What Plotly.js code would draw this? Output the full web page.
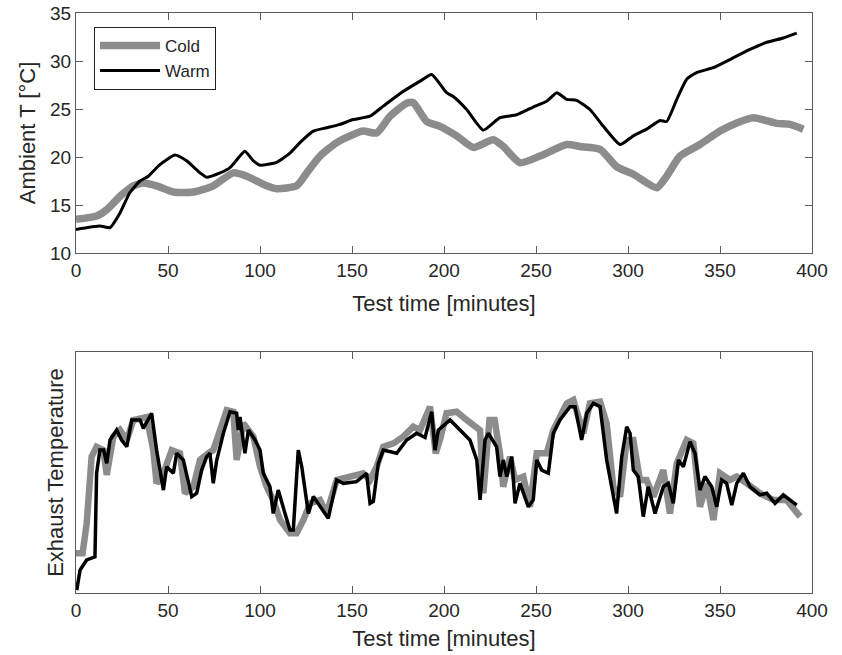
<!DOCTYPE html>
<html>
<head>
<meta charset="utf-8">
<script src="https://cdn.plot.ly/plotly-3.0.1.min.js"></script>
<style>html,body{margin:0;padding:0;background:#fff;}#chart{width:842px;height:655px;}</style>
</head>
<body>
<div id="chart"></div>
<script>
// Top panel: ambient temperature [°C]
const coldAmbT = [0,11.2,16.7,23.9,31.2,36.6,43.8,52.9,63.8,74.6,85.5,92.8,103.6,109,119.9,125.4,132.6,141.7,150.7,156.1,163.4,170.7,179.7,183.3,190.6,197.8,206.9,216,226.8,232.2,241.3,252.2,266.7,273.9,284.8,293.8,302.9,315.6,321,328.3,339.1,350,359.1,368.1,380.8,388,395.3];
const coldAmb  = [13.5,13.85,14.5,15.9,17.0,17.3,17.0,16.35,16.35,17.0,18.35,18.0,17.0,16.7,17.0,18.35,20.1,21.5,22.35,22.7,22.5,24.25,25.6,25.65,23.7,23.2,22.2,21.0,21.8,21.1,19.4,20.1,21.3,21.1,20.8,19.0,18.2,16.8,18.0,20.1,21.3,22.7,23.55,24.1,23.5,23.4,22.9];
const warmAmbT = [0,13,18.5,24,29.3,34.8,39.3,45.6,53.8,60.1,67.4,71,78.3,83.7,88.2,91.8,96.4,100,109,116.3,121.7,129,136.2,143.5,150.7,159.8,167,176,187,193.3,201.4,205,212.3,221.4,230.4,239.5,248.5,255.8,261.3,266.7,272.1,279.3,286.6,295.7,302.9,310.1,317.4,321,326.5,331.9,337.3,346.4,355.4,366.3,375.4,384.4,391.7];
const warmAmb  = [12.45,12.8,12.65,14.2,16.3,17.5,18.0,19.2,20.2,19.6,18.35,17.9,18.35,18.9,19.9,20.6,19.6,19.15,19.45,20.4,21.5,22.7,23.05,23.4,23.9,24.25,25.3,26.6,27.9,28.6,26.7,26.3,24.95,22.8,24.1,24.4,25.2,25.8,26.7,26.0,25.9,24.95,23.2,21.3,22.2,22.9,23.8,23.7,26.0,28.1,28.8,29.3,30.15,31.2,31.95,32.4,32.9];

// Bottom panel: exhaust temperature (arbitrary, unlabeled scale)
const coldExhT = [0,3.6,5.8,8.5,11.2,14.9,16.7,20.3,23.9,27.6,31.2,38.4,42,43.8,47.5,52,56.5,59.2,63.8,67.4,72,74.6,78.3,81.9,85.5,87.3,90.9,96.4,100,103.6,107.2,110.9,116.3,119.9,123.6,127.2,132.6,136.2,141.7,149,156.1,159.8,163.4,167,172.5,177.9,183.3,187,192.4,195.5,197.8,201.4,206.9,212.3,219.6,221.4,224.7,227.5,230.4,232.2,235.9,238.6,243.1,246.7,250.4,255.8,259.4,266.7,270.3,275.7,279.3,284.8,288.4,292,295.7,299.3,302.9,306.5,310.1,313.8,319.2,322.8,326.5,331.9,335.5,339.1,342.8,346.4,350,355.4,359.1,364.5,371.7,379,386.2,393.5];
const coldExh  = [16.5,16.5,28.9,56.6,60.7,59.3,49,64.9,67.6,63.5,71.8,73,59.3,45.5,49.7,59.3,58,41.4,44.1,55.2,58,59.3,67.6,75.9,75.2,55.2,70.4,64.9,52.4,44.1,38.6,30.3,24.8,24.8,30.3,37.2,38.6,33,46.9,48.3,49.7,46.9,52.4,60.7,62.1,64.9,69,67.6,77.3,58,63.5,74.6,75.2,71.8,67.6,41.4,71.8,71.8,58,44.1,56.6,46.9,48.3,35.8,58,58,67.6,78.7,80.1,66.3,78.7,79.4,70.4,44.1,40,63.5,63.5,46.9,46.9,40,51,33,53.8,63.5,62.1,35.8,45.5,30.3,49.7,46.9,48.3,45.5,41.4,38.6,38.6,31.7];
const warmExhT = [0.4,2.2,5.8,10.3,11.2,13,15,16.7,18.5,22.1,24.8,27.6,30.3,34.8,36.6,39.3,41.1,43.8,47.5,49.3,52.9,54.7,58.3,62.9,65.6,68.3,71,72.8,74.6,76.5,80.1,83.7,87.3,88.2,89.1,91.8,93.7,97.3,100,101.8,105.4,107.2,109.9,113.6,116.3,118.1,120.8,122.7,126.3,129,132.6,137.1,141.7,145.3,152.5,157.9,159.8,161.6,164.3,167,174.3,179.7,185.1,189.7,193.3,195.1,196.9,203.3,208.7,214.1,217.8,219.6,222.3,224.1,228.6,230.4,232.2,234.1,236.8,238.6,241.3,245.8,248.5,250.4,253.1,256.7,259.4,263,268.5,271.2,274.8,277.6,281.2,284.8,288.4,293.8,296.6,299.3,301.1,302.9,305.6,308.3,311,314.7,319.2,321.9,324.6,327.4,330.1,333.7,336.4,339.1,341.8,345.5,348.2,350.9,353.6,356.4,359.1,362.7,366.3,371.7,375.4,379.9,384.4,388,391.7];
const warmExh  = [1.2,9.5,13.7,15,49.7,59.3,59.3,53.8,63.5,67.6,63.5,60.7,71.8,71.8,68.3,71.8,74.6,59.3,42.7,52.4,49.7,58,55.2,40,41.4,51,56.6,58,45.5,55.2,66.3,75.2,74.6,67.6,73,58,67.6,63.5,59.3,49.7,44.1,33,42.7,33,26.1,26.1,59.3,52.4,33,40,35.8,31,46.9,45.5,46.2,49.7,37.2,38,53.8,59.3,58,63.5,66.3,64.5,75.2,59.3,67.6,71.8,67.6,63.5,55.2,38.6,63.5,66.3,60.7,48.3,55.2,48.3,56.6,37.2,45.5,35.8,38.6,55.2,51,49.7,66.3,71.8,77.3,77.3,63.5,74.6,78.7,77.3,55.2,33,56.6,69,66.3,51,48.3,31.7,44.1,33,44.1,45.5,37.2,55.2,52.4,62.8,58,42.7,48.3,44.1,35.8,46.9,45.5,36.5,45.5,49.7,44.1,40.7,41.4,37.2,40.7,38.6,36.5];

const xTicks = [0,50,100,150,200,250,300,350,400];
const yTicksTop = [10,15,20,25,30,35];

const GRAY = '#8c8c8c';
const FONT = 'Liberation Sans, Arial, sans-serif';
const AX = '#5a5a5a';
const TXT = '#262626';

const traces = [
  {x: coldAmbT, y: coldAmb, name: 'Cold', mode: 'lines', line: {color: GRAY, width: 7.5, shape: 'spline', smoothing: 0.6}, xaxis: 'x', yaxis: 'y'},
  {x: warmAmbT, y: warmAmb, name: 'Warm', mode: 'lines', line: {color: '#000', width: 3, shape: 'spline', smoothing: 0.5}, xaxis: 'x', yaxis: 'y'},
  {x: coldExhT, y: coldExh, name: 'Cold', mode: 'lines', line: {color: GRAY, width: 6.5}, showlegend: false, xaxis: 'x2', yaxis: 'y2'},
  {x: warmExhT, y: warmExh, name: 'Warm', mode: 'lines', line: {color: '#000', width: 3.5}, showlegend: false, xaxis: 'x2', yaxis: 'y2'}
];

const axBase = {
  showline: true, linecolor: AX, linewidth: 1, mirror: 'ticks',
  ticks: 'inside', ticklen: 7, tickcolor: AX, tickwidth: 1,
  showgrid: false, zeroline: false,
  tickfont: {family: FONT, size: 19, color: TXT}
};
const titleFont = {family: FONT, size: 22, color: TXT};

const layout = {
  width: 842, height: 655,
  margin: {l: 76, r: 30, t: 13, b: 62},
  paper_bgcolor: '#fff', plot_bgcolor: '#fff',
  font: {family: FONT, color: TXT},
  showlegend: true,
  legend: {x: 0.0245, y: 0.976, xanchor: 'left', yanchor: 'top',
           bordercolor: '#222', borderwidth: 1, bgcolor: '#fff',
           font: {family: FONT, size: 17, color: TXT}, itemwidth: 60,
           tracegroupgap: 0},
  xaxis: Object.assign({}, axBase, {domain: [0, 1], range: [0, 400], tickvals: xTicks, anchor: 'y',
          title: {text: 'Test time [minutes]', font: titleFont, standoff: 15}}),
  yaxis: Object.assign({}, axBase, {domain: [0.5862, 1], range: [10, 35], tickvals: yTicksTop, anchor: 'x',
          title: {text: 'Ambient T [°C]', font: titleFont, standoff: 8}}),
  xaxis2: Object.assign({}, axBase, {domain: [0, 1], range: [0, 400], tickvals: xTicks, anchor: 'y2',
          title: {text: 'Test time [minutes]', font: titleFont, standoff: 10}}),
  yaxis2: Object.assign({}, axBase, {domain: [0, 0.4155], range: [0, 100], ticks: '', showticklabels: false, anchor: 'x2',
          title: {text: 'Exhaust Temperature', font: titleFont, standoff: 5}})
};

Plotly.newPlot('chart', traces, layout, {displayModeBar: false, staticPlot: true});
</script>
</body>
</html>
